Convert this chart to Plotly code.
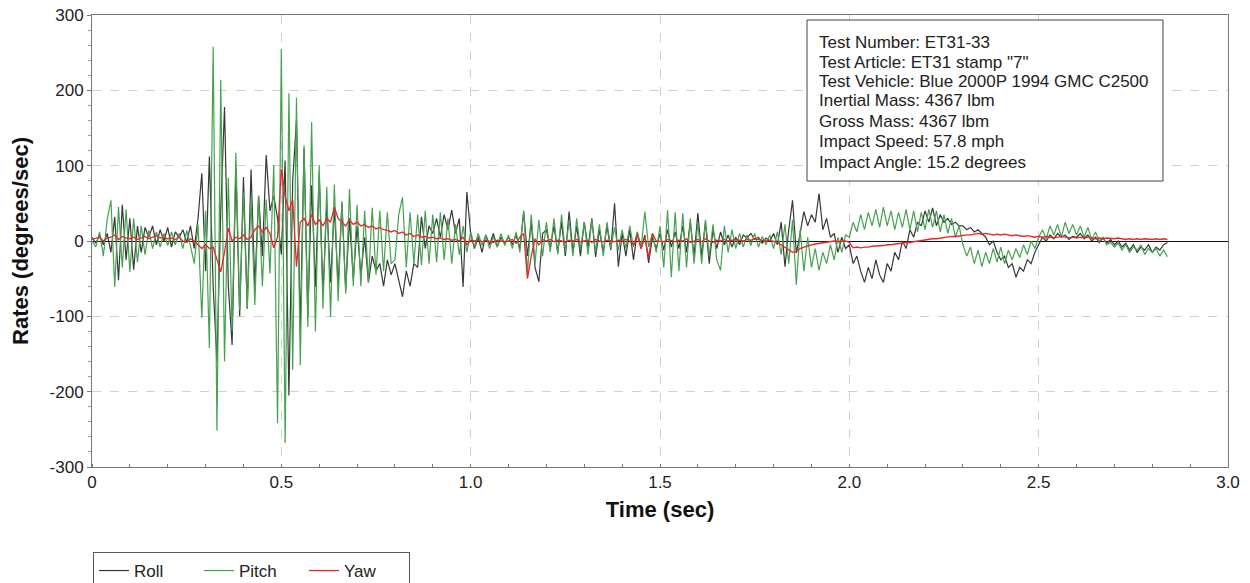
import plotly.graph_objects as go

TIME_STEP = 0.01

roll = [
    5, -3, 8, -5, 10, -15, 32, -52, 48, -25,
    30, -38, 20, -15, 18, 5, 20, -5, 15, 0,
    18, -8, 12, 5, 15, -2, 20, -10, 30, 90,
    -40, 112, -60, -160, 40, 178, -60, -138, 97, -100,
    85, -90, 95, -60, 60, -20, 114, 40, 60, 30,
    -18, 107, -205, 80, 161, -120, 123, -100, 74, -61,
    90, -70, 50, -55, 45, -60, 50, -65, 30, -50,
    20, -45, 5, -55, -20, -40, -30, -60, -25, -45,
    -30, -50, -74, -40, -60, -30, -35, 32, -10, 20,
    10, 30, 5, 35, 15, 41, 10, 30, -61, 65,
    10, -10, 5, -15, 8, -5, 10, -8, 5, -3,
    5, -5, 8, -10, 39, -20, 25, -35, -54, 10,
    15, -10, 20, -15, 25, -20, 39, -15, 20, -20,
    25, -10, 30, -21, 15, -15, 20, -12, 50, -34,
    10, -20, 15, -25, 12, -10, 8, -29, 5, -10,
    10, -12, 15, -8, 12, -10, 20, -15, 25, -20,
    37, -20, 25, -30, 15, -10, 12, -5, 8, -8,
    5, -5, 8, 4, 10, 2, 5, -3, 4, 0,
    10, -5, 25, -34, 15, 54, -16, 10, 39, 20,
    35, 25, 63, 15, 30, 5, 10, -15, 5, -10,
    -5, -30, -20, -40, -55, -35, -50, -25, -45, -55,
    -30, -40, -15, -25, 0, -10, 15, 5, 25, 20,
    40, 25, 44, 20, 35, 25, 30, 22, 25, 20,
    20, 15, 18, 12, 15, 10, 5, -5, 0, -15,
    -25, -20, -35, -30, -48, -35, -40, -25, -30, -15,
    -5, 5, 0, 8, 3, 10, 5, 8, 2, 6,
    5, 10, 3, 8, 0, 5, -2, 4, -3, 2,
    -5, 0, -8, -3, -12, -5, -15, -8, -12, -5,
    -15, -8, -12, -5, -2,
]

pitch = [
    0, -8, 12, -20, 28, 54, -61, 45, -35, 42,
    -41, 30, -28, 20, -18, 14, -10, 12, -8, 10,
    -6, 12, -5, 10, -10, 14, -6, -30, 22, -102,
    40, -142, 258, -252, 214, -160, 84, -120, 117, -92,
    64, -90, 56, -85, 60, -60, 55, -43, 101, -242,
    255, -268, 196, -171, 190, -165, 127, -114, 158, -120,
    101, -90, 72, -101, 75, -80, 53, -70, 69, -60,
    48, -60, 40, -55, 44, -45, 40, -40, 38, -30,
    -25, 35, 58, -35, 38, -30, 35, -32, 40, -30,
    35, -28, 38, -25, 30, -30, 22, -18, 20, -15,
    12, -8, 10, -6, 8, -10, 6, -8, 10, -6,
    8, -10, 12, -15, 40, -43, 35, -30, 28, -20,
    25, -15, 30, -18, 35, -15, 28, -20, 30, -12,
    25, -18, 28, -15, 22, -20, 25, -10, 18, -12,
    15, -10, 20, -8, 12, -10, 39, -8, 10, -15,
    20, -35, 41, -48, 38, -40, 37, -35, 30, -30,
    25, -30, 28, -20, 22, -25, -39, 20, -15, 15,
    -10, 10, -8, 8, -6, 10, -8, 6, -5, 8,
    -10, 12, -18, 22, -30, 28, -58, 15, -40, 5,
    -35, -10, -39, -15, -30, -5, -25, 5, -15, 8,
    5, 25, 12, 35, 15, 38, 20, 42, 18, 45,
    20, 40, 15, 38, 18, 42, 15, 40, 12, 38,
    15, 42, 18, 40, 12, 35, 10, 30, 5, 20,
    -5, -20, -8, -30, -12, -34, -15, -30, -10, -28,
    -8, -30, -12, -25, -10, -22, -5, -18, 0, -10,
    5, 15, 3, 20, 8, 22, 5, 25, 10, 22,
    8, 20, 5, 18, 2, 12, 0, 5, -5, -2,
    -8, -3, -12, -5, -15, -8, -12, -5, -18, -10,
    -15, -10, -20, -12, -21,
]

yaw = [
    2, 3, 5, 0, 4, 5, 8, 2, 6, 4,
    3, 5, 2, 4, 6, 3, 5, 7, 4, 5,
    3, 4, 2, 5, 0, -2, 3, 0, -5, -10,
    -5, -10, -8, -25, -41, -15, 17, 0, 5, 3,
    8, 2, 5, 15, 20, 12, 18, 10, -9, 5,
    95, 60, 40, 55, -34, 25, 30, 20, 35, 22,
    28, 20, 30, 25, 45, 30, 25, 20, 28, 22,
    25, 20, 22, 18, 20, 16, 18, 15, 14, 12,
    14, 10, 12, 8, 10, 6, 8, 5, 6, 4,
    5, 3, 4, 2, 3, 1, 2, 0, 5, -5,
    1, 0, 2, -1, 1, 0, -2, 1, 0, -1,
    0, 2, -3, 5, 10, -50, -20, 3, -5, 2,
    0, 2, -1, 1, 0, -2, 1, 0, 2, -1,
    0, 1, -2, 2, 0, -1, 1, 0, -1, 1,
    0, 2, 0, -5, 8, -10, 5, -22, 10, 0,
    0, -1, 2, 0, -1, 1, 0, 3, -2, 0,
    2, -1, 3, 0, -2, 1, 0, 2, 0, 1,
    2, 1, 0, 2, 1, 3, 2, 1, 0, 1,
    0, -2, -5, -8, -12, -15, -14, -10, -8, -6,
    -5, -4, -3, -2, -2, -1, 0, -1, 0, 0,
    -2, -9, -8, -9, -8, -8, -7, -7, -6, -6,
    -5, -5, -4, -4, -3, -2, -2, -1, 0, 1,
    1, 2, 3, 3, 4, 5, 5, 6, 6, 7,
    7, 8, 8, 9, 10, 9, 10, 9, 8, 9,
    8, 9, 8, 7, 8, 7, 6, 7, 6, 5,
    6, 5, 6, 5, 4, 5, 6, 5, 4, 5,
    4, 5, 4, 5, 4, 3, 4, 3, 4, 3,
    3, 4, 3, 2, 3, 2, 3, 2, 3, 2,
    2, 3, 2, 3, 2,
]

time = [round(i * TIME_STEP, 2) for i in range(len(roll))]

x_tickvals = [0, 0.5, 1.0, 1.5, 2.0, 2.5, 3.0]
x_ticktext = ["0", "0.5", "1.0", "1.5", "2.0", "2.5", "3.0"]
y_tickvals = [-300, -200, -100, 0, 100, 200, 300]
y_ticktext = ["-300", "-200", "-100", "0", "100", "200", "300"]

info_lines = [
    "Test Number: ET31-33",
    'Test Article: ET31 stamp "7"',
    "Test Vehicle: Blue 2000P 1994 GMC C2500",
    "Inertial Mass: 4367 lbm",
    "Gross Mass: 4367 lbm",
    "Impact Speed: 57.8 mph",
    "Impact Angle: 15.2 degrees",
]

FONT = "Liberation Sans, Arial, sans-serif"

# plot area geometry (pixels)
W, H = 1250, 583
L, R, T, B = 92, 1228, 15, 467
PW, PH = R - L, B - T


def px_x(x):
    return (x - L) / PW


def px_y(y):
    return (B - y) / PH


fig = go.Figure()
fig.add_trace(go.Scatter(x=time, y=roll, mode="lines", name="Roll",
                         line=dict(color="#383838", width=1.2)))
fig.add_trace(go.Scatter(x=time, y=pitch, mode="lines", name="Pitch",
                         line=dict(color="#45a34f", width=1.2)))
fig.add_trace(go.Scatter(x=time, y=yaw, mode="lines", name="Yaw",
                         line=dict(color="#e8262b", width=1.3)))

annotations = []
line_y = [42, 62, 81, 101, 121, 141, 162]
for txt, yy in zip(info_lines, line_y):
    annotations.append(dict(
        xref="paper", yref="paper", x=px_x(817), y=px_y(yy),
        xanchor="left", yanchor="middle", showarrow=False, align="left",
        text=txt, font=dict(size=17, color="#222", family=FONT),
    ))

fig.update_layout(
    width=W, height=H,
    margin=dict(l=L, r=W - R, t=T, b=H - B, autoexpand=False),
    paper_bgcolor="white", plot_bgcolor="white",
    font=dict(family=FONT, size=17, color="#222"),
    showlegend=True,
    legend=dict(orientation="h", xref="container", yref="container",
                x=(L + 1) / W, xanchor="left", y=(H - 552) / H, yanchor="top",
                bordercolor="#555", borderwidth=1, bgcolor="white",
                font=dict(size=17, color="#222"),
                entrywidthmode="pixels", entrywidth=60),
    xaxis=dict(
        range=[0, 3.0], tickvals=x_tickvals, ticktext=x_ticktext, automargin=False,
        showline=True, linecolor="#777", linewidth=1, mirror=True,
        showgrid=True, gridcolor="#d0d0d0", griddash="dash", gridwidth=1,
        zeroline=False, ticks="", tickfont=dict(size=17, color="#222"),
        minor=dict(dtick=0.1, ticks="inside", ticklen=3, tickcolor="#777", showgrid=False),
        title=dict(text="<b>Time (sec)</b>", font=dict(size=22, color="#111"), standoff=10),
    ),
    yaxis=dict(
        range=[-300, 300], tickvals=y_tickvals, ticktext=y_ticktext, automargin=False,
        showline=True, linecolor="#777", linewidth=1, mirror=True,
        showgrid=True, gridcolor="#d0d0d0", griddash="dash", gridwidth=1,
        zeroline=True, zerolinecolor="#111", zerolinewidth=1,
        ticks="outside", ticklen=4, tickcolor="#777", tickfont=dict(size=17, color="#222"),
        minor=dict(dtick=20, ticks="outside", ticklen=3, tickcolor="#999", showgrid=False),
        title=dict(text="<b>Rates (degrees/sec)</b>", font=dict(size=22, color="#111"), standoff=14),
    ),
    shapes=[dict(
        type="rect", xref="paper", yref="paper",
        x0=px_x(807), x1=px_x(1163), y0=px_y(181), y1=px_y(20),
        line=dict(color="#444", width=1), fillcolor="white", layer="above",
    )],
    annotations=annotations,
)

fig.write_html("out.html")
